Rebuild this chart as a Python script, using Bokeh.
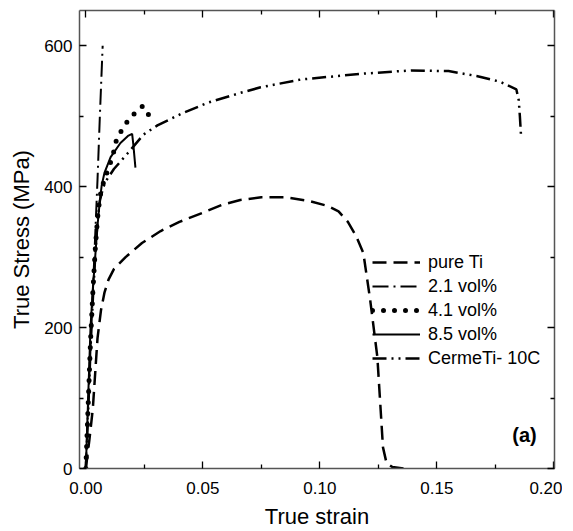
from bokeh.plotting import figure
from bokeh.models import Legend, LegendItem, LinearAxis, FixedTicker, Range1d, Label, CustomJSTickFormatter
from bokeh.embed import file_html
from bokeh.resources import INLINE

# ---- data (strain, true stress in MPa) ----
pure_ti_x = [0.0, 0.0015, 0.003, 0.005, 0.0065, 0.008, 0.0097, 0.012, 0.017, 0.024, 0.032,
             0.040, 0.050, 0.058, 0.066, 0.075, 0.085, 0.095, 0.103, 0.108, 0.112, 0.1155, 0.1186,
             0.1215, 0.1246, 0.127, 0.1285, 0.131, 0.136]
pure_ti_y = [0, 40, 85, 185, 225, 250, 268, 283, 300, 320, 337,
             350, 363, 374, 381, 385, 385, 380, 373, 365, 350, 330, 306,
             240, 158, 30, 8, 2, 0]

v21_x = [0.0, 0.001, 0.002, 0.003, 0.004, 0.005, 0.006, 0.0072]
v21_y = [0, 90, 170, 250, 330, 410, 500, 600]

v41_x = [0.0, 0.001, 0.002, 0.003, 0.004, 0.005, 0.006, 0.007, 0.009, 0.0114, 0.013,
         0.0162, 0.0199, 0.0242, 0.026, 0.0273]
v41_y = [0, 90, 180, 250, 310, 355, 385, 400, 420, 442, 465,
         486, 501, 514, 510, 497]

v85_x = [0.0, 0.001, 0.002, 0.003, 0.004, 0.005, 0.006, 0.0068, 0.008, 0.0106, 0.0148,
         0.018, 0.0198, 0.0203, 0.0212]
v85_y = [0, 100, 200, 255, 300, 345, 380, 402, 420, 442, 462,
         472, 475, 460, 427]

cer_x = [0.0, 0.001, 0.002, 0.003, 0.004, 0.005, 0.006, 0.0075, 0.009, 0.012, 0.0178,
         0.0247, 0.0306, 0.0405, 0.052, 0.066, 0.0747, 0.0918, 0.117, 0.139, 0.155,
         0.167, 0.177, 0.184, 0.185, 0.1855, 0.186]
cer_y = [0, 80, 170, 240, 300, 350, 380, 400, 410, 425, 447,
         474, 487, 503, 519, 533, 541, 552, 560, 565, 564,
         557, 549, 538, 523, 500, 472]

labels = ["pure Ti", "2.1 vol%", "4.1 vol%", "8.5 vol%", "CermeTi- 10C"]
x_ticks = [0.0, 0.05, 0.10, 0.15, 0.20]
x_minor = [0.025, 0.075, 0.125, 0.175]
y_ticks = [0, 200, 400, 600]
y_minor = [100, 300, 500]

FONT = "Liberation Sans"

p = figure(frame_width=475, frame_height=458,
           x_range=Range1d(-0.0027, 0.2003), y_range=Range1d(0, 650),
           output_backend="svg", toolbar_location=None,
           min_border_left=79, min_border_right=8, min_border_top=10, min_border_bottom=50)
p.grid.visible = False
p.outline_line_color = None
p.background_fill_color = "white"
p.border_fill_color = "white"

r1 = p.line(pure_ti_x, pure_ti_y, line_color="black", line_width=2.5, line_dash="14 7")
r2 = p.line(v21_x, v21_y, line_color="black", line_width=2, line_dash="16 5 2 5")
r3 = p.line(v41_x, v41_y, line_color="black", line_width=5, line_dash="0 11", line_cap="round")
r4 = p.line(v85_x, v85_y, line_color="black", line_width=2)
r5 = p.line(cer_x, cer_y, line_color="black", line_width=2.5, line_dash="14 5 2 5 2 5")

ax_ticks = {"x": x_ticks, "y": y_ticks}
ax_minor = {"x": x_minor, "y": y_minor}

xb = p.xaxis[0]
yl = p.yaxis[0]
top = LinearAxis()
right = LinearAxis()
p.add_layout(top, "above")
p.add_layout(right, "right")

for ax, kind, show in [(xb, "x", True), (top, "x", False), (yl, "y", True), (right, "y", False)]:
    ax.ticker = FixedTicker(ticks=ax_ticks[kind], minor_ticks=ax_minor[kind])
    ax.axis_line_color = "#555555"
    ax.axis_line_width = 1.5
    ax.major_tick_in = 7
    ax.major_tick_out = 0
    ax.minor_tick_in = 4
    ax.minor_tick_out = 0
    ax.major_tick_line_color = "black"
    ax.minor_tick_line_color = "black"
    ax.major_tick_line_width = 1.3
    ax.minor_tick_line_width = 1.3
    if show:
        ax.major_label_text_font = FONT
        ax.major_label_text_font_size = "17px"
        ax.major_label_text_color = "black"
    else:
        ax.formatter = CustomJSTickFormatter(code="return ''")
        ax.major_label_standoff = 0

xb.major_label_overrides = {0.0: "0.00", 0.05: "0.05", 0.1: "0.10", 0.15: "0.15", 0.2: "0.20"}
xb.major_label_standoff = 13
yl.major_label_standoff = 7

xb.axis_label = "True strain"
yl.axis_label = "True Stress (MPa)"
for ax in (xb, yl):
    ax.axis_label_text_font = FONT
    ax.axis_label_text_font_size = "22px"
    ax.axis_label_text_font_style = "normal"
    ax.axis_label_text_color = "black"
xb.axis_label_standoff = 7
yl.axis_label_standoff = 7

legend = Legend(items=[LegendItem(label=l, renderers=[r]) for l, r in zip(labels, [r1, r2, r3, r4, r5])],
                location=(293, 98), orientation="vertical")
legend.label_text_font = FONT
legend.label_text_font_size = "18px"
legend.label_text_color = "black"
legend.glyph_width = 48
legend.glyph_height = 24
legend.label_height = 24
legend.spacing = 0
legend.label_standoff = 8
legend.padding = 0
legend.margin = 0
legend.border_line_color = None
legend.background_fill_alpha = 0
p.add_layout(legend)

p.add_layout(Label(x=0.1875, y=48, text="(a)", text_font=FONT, text_font_size="20px",
                   text_font_style="bold", text_align="center", text_baseline="middle",
                   text_color="black"))

open("out.html", "w").write(file_html(p, INLINE))
